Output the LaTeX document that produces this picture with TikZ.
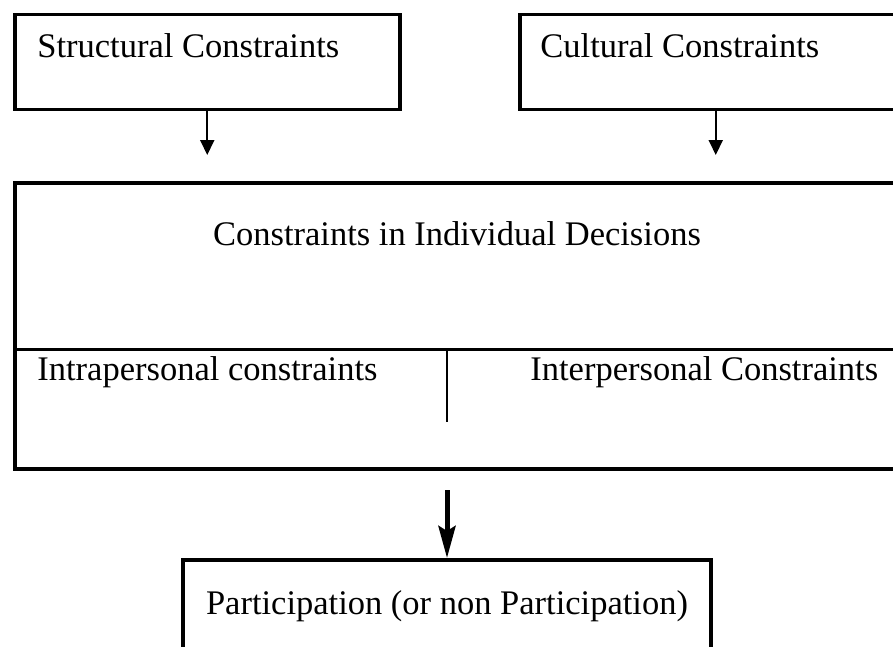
\documentclass[tikz,border=0pt]{standalone}
\usepackage{fontspec}
\setmainfont{Liberation Serif}
\usetikzlibrary{arrows.meta}

\begin{document}
\begin{tikzpicture}[x=0.5pt,y=-0.5pt,
    box/.style={draw,line width=1.75pt,inner sep=0pt},
    words/.style={inner sep=0pt,font=\fontsize{17.25}{20}\selectfont},
    thinarrow/.style={line width=1pt,-{Triangle[length=7.5pt,width=7pt]}},
    thickarrow/.style={line width=2.5pt,-{Stealth[length=16pt,width=8.5pt,inset=2.5pt]}}]
      \useasboundingbox (0,0) rectangle (893,647);
      \clip (0,0) rectangle (893,647);

      \node [box,anchor=north west,minimum width=192.5pt,minimum height=47.5pt] (structural) at (13,13) {};
      \node [box,anchor=north west,minimum width=196pt,minimum height=47.5pt] (cultural) at (518,13) {};
      \node [box,anchor=north west,minimum width=448.5pt,minimum height=143pt] (decisions) at (13,181) {};
      \node [box,anchor=north,minimum width=264pt,minimum height=75pt] (participation) at (447,558) {};

      \node [words,anchor=base west] (structuraltext) at (37,58) {Structural Constraints};
      \node [words,anchor=base west] (culturaltext) at (540,58) {Cultural Constraints};
      \node [words,anchor=base] (decisionstext) at (457,245) {Constraints in Individual Decisions};
      \node [words,anchor=base west] (intratext) at (37,380) {Intrapersonal constraints};
      \node [words,anchor=base west] (intertext) at (530,380) {Interpersonal Constraints};
      \node [words,anchor=base] (participationtext) at (447,614) {Participation (or non Participation)};

      \draw [line width=1.5pt] (decisions.west |- 0,349) -- (decisions.east |- 0,349);
      \draw [line width=1pt] (447,349) -- (447,422);

      \coordinate (structuralend) at (structural.south |- 0,155);
      \coordinate (culturalend) at (cultural.south |- 0,155);
      \coordinate (decisionsout) at (447,490);
      \draw [thinarrow] (structural.south) -- (structuralend);
      \draw [thinarrow] (cultural.south) -- (culturalend);
      \draw [thickarrow] (decisionsout) -- (participation.north);
    \end{tikzpicture}
\end{document}
